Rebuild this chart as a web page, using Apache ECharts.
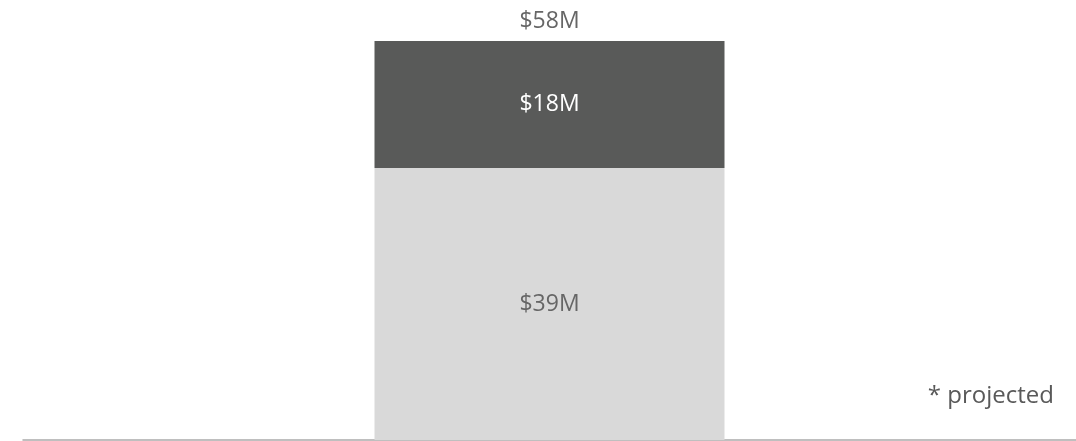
<!DOCTYPE html>
<html>
<head>
<meta charset="utf-8">
<script src="https://cdn.jsdelivr.net/npm/echarts@6/dist/echarts.min.js"></script>
<style>
  html, body { margin: 0; padding: 0; background: #fff; }
  #chart { width: 1076px; height: 441px; }
</style>
</head>
<body>
<div id="chart"></div>
<script>
var categories = ['2024*']
var baseValues = [39.4]
var addedValues = [18.4]
var baseLabels = ['$39M']
var addedLabels = ['$18M']
var totalLabels = ['$58M']

var chart = echarts.init(document.getElementById('chart'))
var font = 'Open Sans'

chart.setOption({
  animation: false,
  grid: { left: 23, right: 0, top: 41, bottom: 1 },
  xAxis: {
    type: 'category',
    data: categories,
    axisLine: { lineStyle: { color: '#aaaaaa', width: 1.5 } },
    axisTick: { show: false },
    axisLabel: { show: false }
  },
  yAxis: {
    type: 'value',
    min: 0,
    max: 57.8,
    show: false,
    splitLine: { show: false }
  },
  graphic: [{
    type: 'text',
    right: 22,
    top: 384,
    style: {
      text: '* projected',
      fill: '#595959',
      font: '24px "' + font + '"'
    }
  }],
  series: [{
    name: 'base',
    type: 'bar',
    stack: 'total',
    barWidth: 350,
    itemStyle: { color: '#d9d9d9' },
    label: {
      show: true,
      position: 'inside',
      color: '#666666',
      fontFamily: font,
      fontSize: 23,
      formatter: function (p) { return baseLabels[p.dataIndex] }
    },
    data: baseValues
  }, {
    name: 'added',
    type: 'bar',
    stack: 'total',
    barWidth: 350,
    itemStyle: { color: '#595a59' },
    label: {
      show: true,
      position: 'inside',
      color: '#ffffff',
      fontFamily: font,
      fontSize: 23,
      formatter: function (p) { return addedLabels[p.dataIndex] }
    },
    data: addedValues
  }, {
    name: 'total',
    type: 'bar',
    stack: 'total',
    barWidth: 350,
    itemStyle: { color: 'transparent' },
    label: {
      show: true,
      position: 'insideBottom',
      distance: 8,
      color: '#666666',
      fontFamily: font,
      fontSize: 23,
      formatter: function (p) { return totalLabels[p.dataIndex] }
    },
    data: [0]
  }]
})
</script>
</body>
</html>
